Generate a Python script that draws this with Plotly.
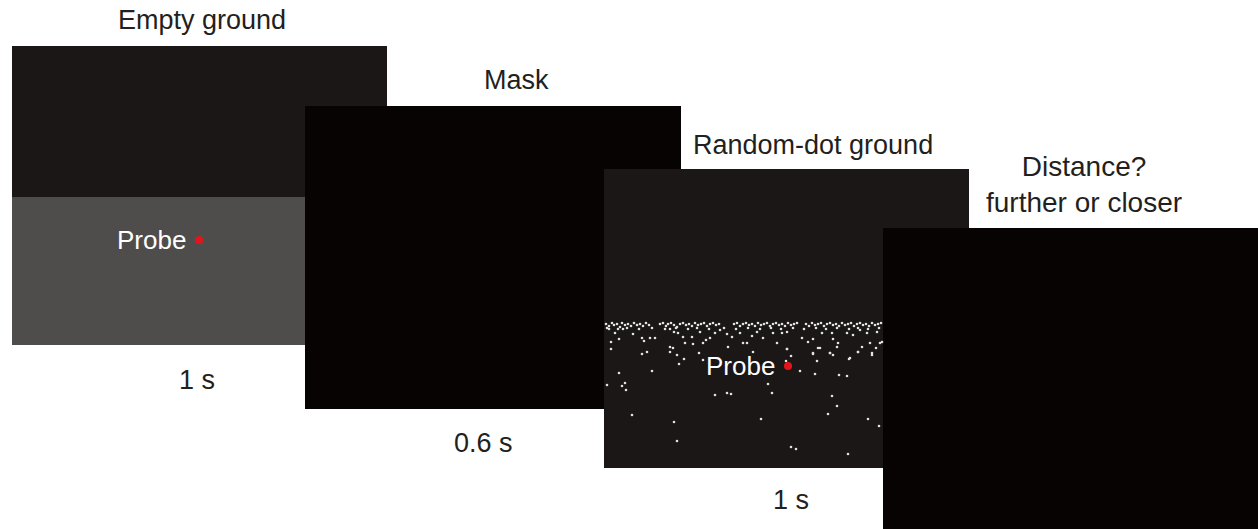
import plotly.graph_objects as go

# ---- content (text) ----
stage_titles = ["Empty ground", "Mask", "Random-dot ground", "Distance?<br>further or closer"]
stage_durations = ["1 s", "0.6 s", "1 s"]
probe_label = "Probe"

# ---- random-dot ground: dot positions (pixel coords) ----
dots_top_x = [606, 609, 612, 614, 617, 620, 622, 625, 628, 631, 634, 637, 640, 643, 646, 649,
              660, 663, 666, 668, 671, 674, 677, 680, 683, 686, 689, 692, 695, 698, 701, 704,
              707, 710, 713, 716, 719, 734, 737, 740, 743, 746, 749, 752, 755, 758, 761, 764,
              767, 770, 773, 776, 779, 782, 785, 788, 791, 794, 797, 806, 809, 812, 815, 818,
              821, 824, 827, 830, 833, 836, 839, 842, 845, 848, 851, 854, 857, 860, 863, 866,
              869, 872, 875, 878, 881,
              607, 618, 627, 639, 652, 665, 676, 688, 697, 709, 724, 736, 748, 760, 771, 781,
              793, 804, 816, 826, 837, 849, 858, 868, 879]
dots_top_y = [324, 326, 323, 325, 324, 327, 323, 325, 324, 326, 323, 325, 324, 326, 323, 325,
              324, 323, 326, 324, 323, 325, 327, 324, 323, 325, 324, 326, 323, 325, 324, 323,
              326, 324, 323, 325, 324, 324, 323, 326, 324, 323, 325, 324, 326, 323, 325, 324,
              323, 326, 324, 323, 325, 324, 326, 323, 325, 324, 323, 324, 326, 323, 325, 324,
              323, 326, 324, 323, 325, 324, 326, 323, 325, 324, 323, 326, 324, 323, 325, 324,
              326, 323, 325, 324, 323,
              328, 329, 328, 329, 328, 329, 328, 329, 328, 329, 328, 329, 328, 329, 328, 329,
              328, 329, 328, 329, 328, 329, 328, 329, 328]
dots_mid_x = [609, 615, 623, 633, 642, 644, 650, 655, 670, 674, 678, 683, 692, 700, 706, 710,
              715, 720, 727, 732, 740, 743, 752, 757, 763, 773, 777, 782, 787, 802, 808, 813,
              818, 822, 832, 833, 838, 847, 853, 860, 867, 870, 877, 882, 611, 619, 685, 693,
              703, 728, 747, 787, 813, 830, 850, 858, 872, 880]
dots_mid_y = [329, 333, 329, 334, 338, 341, 338, 338, 329, 332, 333, 337, 337, 332, 340, 338,
              333, 330, 334, 337, 333, 343, 336, 332, 338, 333, 343, 333, 332, 338, 342, 339,
              348, 333, 333, 339, 343, 333, 335, 330, 333, 343, 332, 342, 342, 339, 343, 344,
              343, 347, 343, 349, 353, 353, 358, 352, 353, 343]
dots_low_x = [611, 642, 647, 670, 673, 670, 677, 684, 679, 699, 703, 619, 652, 625, 622, 607,
              626, 715, 727, 731, 632, 674, 677,
              753, 787, 791, 786, 800, 813, 817, 815, 820, 830, 833, 837, 849, 858, 872, 876,
              862, 839, 847, 768, 772, 832, 837, 828, 761, 868, 879, 791, 796, 848]
dots_low_y = [349, 354, 352, 347, 348, 352, 355, 359, 364, 353, 360, 373, 371, 383, 386, 385,
              390, 395, 393, 394, 415, 422, 441,
              352, 349, 356, 361, 371, 354, 361, 374, 348, 353, 355, 347, 359, 352, 355, 348,
              347, 375, 376, 384, 393, 396, 406, 414, 419, 419, 426, 447, 449, 454]

dot_x = dots_top_x + dots_mid_x + dots_low_x
dot_y = dots_top_y + dots_mid_y + dots_low_y

# ---- styles / layout constants ----
W, H = 1258, 529
TEXT = "#231f20"
DARK = "#1a1716"
BLACK = "#060302"
GREY = "#4e4d4c"
RED = "#e3151b"
FONT = "Liberation Sans, Arial, Helvetica, sans-serif"

fig = go.Figure()

def rect(x0, y0, x1, y1, color):
    fig.add_shape(type="rect", x0=x0, y0=y0, x1=x1, y1=y1, layer="below",
                  fillcolor=color, line=dict(width=0))

# panel 1: empty ground
rect(12, 46, 387, 197, DARK)
rect(12, 197, 387, 345, GREY)
# panel 2: mask
rect(305, 106, 681, 409, BLACK)
# panel 3: random-dot ground
rect(604, 169, 969, 468, DARK)
# panel 4: response
rect(883, 228, 1262, 533, BLACK)

# random dots
fig.add_trace(go.Scatter(x=dot_x, y=dot_y, mode="markers",
                         marker=dict(size=2.6, color="#e2e2e2", line=dict(width=0)),
                         hoverinfo="skip", showlegend=False))

# probes (red dots)
fig.add_trace(go.Scatter(x=[199, 788], y=[240, 366], mode="markers",
                         marker=dict(size=8, color=RED, line=dict(width=0)),
                         hoverinfo="skip", showlegend=False))

def label(x, y, text, color=TEXT, size=26):
    fig.add_annotation(x=x, y=y, text=text, showarrow=False, xanchor="center",
                       yanchor="middle", font=dict(family=FONT, size=size, color=color))

label(202, 20, stage_titles[0], size=27)
label(516, 80, stage_titles[1], size=27)
label(813, 145, stage_titles[2], size=27)
label(1084, 184, stage_titles[3], size=28)

label(197, 380, stage_durations[0], size=27)
label(483, 443, stage_durations[1], size=27)
label(791, 500, stage_durations[2], size=27)

label(151, 240, probe_label, color="white")
label(740, 366, probe_label, color="white")

fig.update_layout(
    width=W, height=H,
    margin=dict(l=0, r=0, t=0, b=0),
    paper_bgcolor="white", plot_bgcolor="white",
    xaxis=dict(range=[0, W], visible=False, fixedrange=True),
    yaxis=dict(range=[H, 0], visible=False, fixedrange=True),
    showlegend=False,
)

fig.write_html(
    "out.html",
    config={"displayModeBar": False},
    post_script="document.body.style.margin='0';document.body.style.overflow='hidden';",
)
